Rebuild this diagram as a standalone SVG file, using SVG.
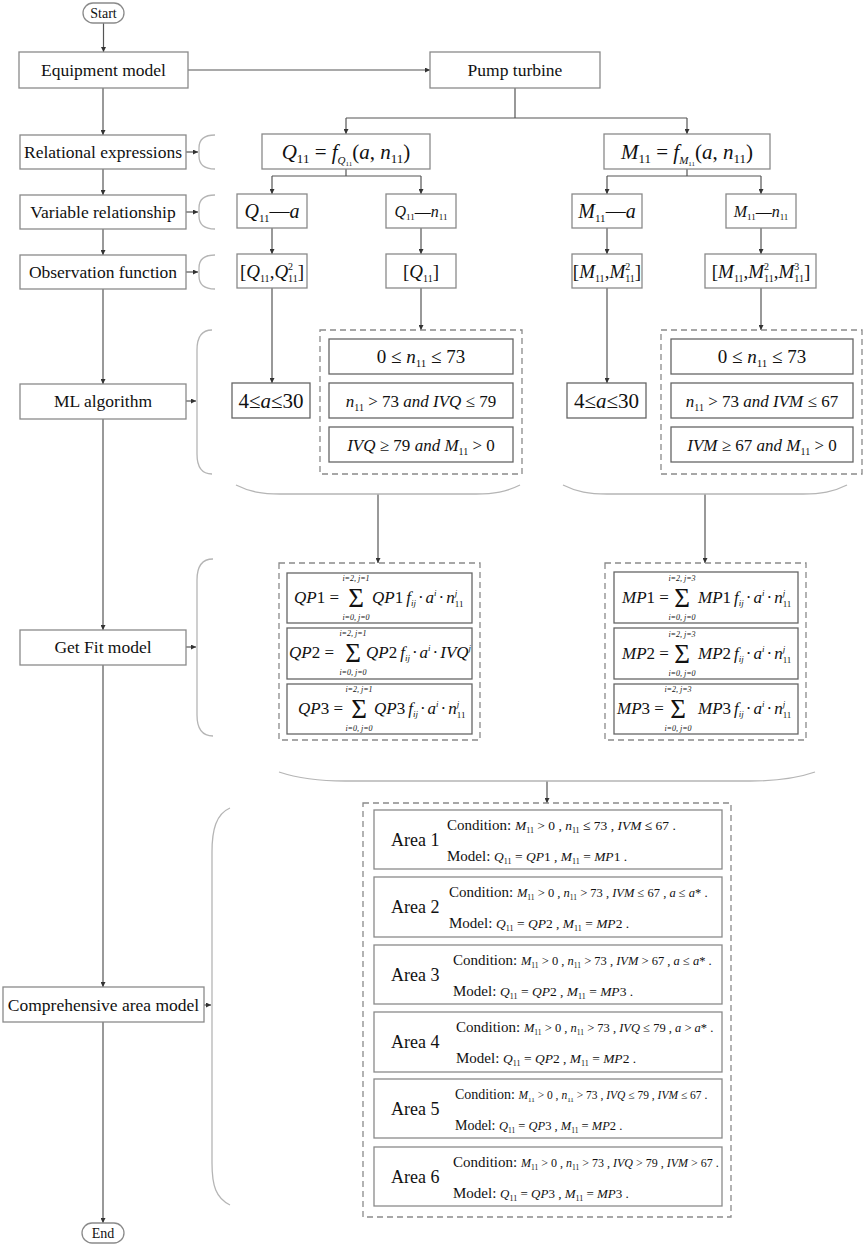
<svg xmlns="http://www.w3.org/2000/svg" width="865" height="1248" viewBox="0 0 865 1248" font-family="'Liberation Serif','Times New Roman',serif">
<defs>
<style>
text{font-family:"Liberation Serif","Times New Roman",serif;fill:#111}
.i{font-style:italic}
.b{fill:#fff;stroke:#8a8a8a;stroke-width:1.3}
.b2{fill:#fff;stroke:#666;stroke-width:1.3}
.d{fill:none;stroke:#8a8a8a;stroke-width:1.3;stroke-dasharray:6 4}
.k{fill:none;stroke:#b5b5b5;stroke-width:1.3}
.c{fill:none;stroke:#555;stroke-width:1.2}
.a{marker-end:url(#ah)}
.lab{font-size:17.5px;text-anchor:middle}
.sg{font-size:27px;text-anchor:middle}
.lim{font-size:8px;text-anchor:middle;font-style:italic}
.fx{font-size:17px}
</style>
<marker id="ah" viewBox="0 0 6 6" refX="6" refY="3" markerWidth="5" markerHeight="5" orient="auto" markerUnits="userSpaceOnUse"><path d="M0,0 L6,3 L0,6 z" fill="#333"/></marker>
</defs>
<rect x="0" y="0" width="865" height="1248" fill="#fff"/>

<g id="connectors">
<path class="c a" d="M103.5,23 V52"/>
<path class="c a" d="M188,70 H430"/>
<path class="c" d="M515,88 V118 M346,118 H687"/>
<path class="c a" d="M346,118 V134"/>
<path class="c a" d="M687,118 V134"/>
<path class="c" d="M346,169 V176 M272,176 H421 M687,169 V176 M607,176 H761"/>
<path class="c a" d="M272,176 V194"/>
<path class="c a" d="M421,176 V194"/>
<path class="c a" d="M607,176 V194"/>
<path class="c a" d="M761,176 V194"/>
<path class="c a" d="M272,228 V254"/>
<path class="c a" d="M421,228 V254"/>
<path class="c a" d="M607,228 V254"/>
<path class="c a" d="M761,228 V254"/>
<path class="c a" d="M272,288 V383"/>
<path class="c a" d="M421,288 V330"/>
<path class="c a" d="M607,288 V383"/>
<path class="c a" d="M761,288 V330"/>
<path class="c a" d="M378,494 V563"/>
<path class="c a" d="M705,494 V563"/>
<path class="c a" d="M547,781 V803"/>
<path class="c a" d="M103,88 V135"/>
<path class="c a" d="M103,169 V195"/>
<path class="c a" d="M103,229 V255"/>
<path class="c a" d="M103,289 V384"/>
<path class="c a" d="M103,419 V630"/>
<path class="c a" d="M103,665 V987"/>
<path class="c a" d="M103,1022 V1223"/>
<path class="c a" d="M186,152 H198"/>
<path class="c a" d="M186,212 H198"/>
<path class="c a" d="M186,272 H198"/>
<path class="c a" d="M186,401 H196"/>
<path class="c a" d="M186,647 H196"/>
<path class="c a" d="M204,1005 H211"/>
</g>

<g id="brackets">
<path class="k" d="M215,135 C203,135 199,140 199,148 L199,156 C199,164 203,169 215,169"/>
<path class="k" d="M215,195 C203,195 199,200 199,208 L199,216 C199,224 203,229 215,229"/>
<path class="k" d="M215,255 C203,255 199,260 199,268 L199,276 C199,284 203,289 215,289"/>
<path class="k" d="M212,330 C201,330 197,338 197,350 L197,454 C197,466 201,474 212,474"/>
<path class="k" d="M213,559 C202,559 197,567 197,580 L197,715 C197,728 202,736 213,736"/>
<path class="k" d="M230,808 C216,814 212,830 212,852 L212,1163 C212,1186 216,1198 230,1205"/>
<path class="k" d="M236,485 C250,492 262,494 280,494 L476,494 C494,494 506,492 520,485"/>
<path class="k" d="M563,485 C577,492 589,494 607,494 L803,494 C821,494 833,492 847,485"/>
<path class="k" d="M279,772 C300,779 320,781 345,781 L750,781 C775,781 795,779 815,772"/>
</g>

<g id="start"><rect class="b" x="83" y="3" width="41" height="20" rx="10"/><text x="103.5" y="17.5" font-size="14" text-anchor="middle">Start</text></g>
<g id="end"><rect class="b" x="82" y="1223" width="42" height="20" rx="10"/><text x="103" y="1237.5" font-size="14" text-anchor="middle">End</text></g>

<g id="equipment"><rect class="b" x="19" y="52" width="169" height="36"/><text class="lab" x="103.5" y="76">Equipment model</text></g>
<g id="pump"><rect class="b" x="430" y="52" width="170" height="36"/><text class="lab" x="515" y="76">Pump turbine</text></g>
<g id="relational"><rect class="b" x="20" y="135" width="166" height="34"/><text class="lab" x="103" y="158">Relational expressions</text></g>
<g id="variable"><rect class="b" x="20" y="195" width="166" height="34"/><text class="lab" x="103" y="218">Variable relationship</text></g>
<g id="observation"><rect class="b" x="20" y="255" width="166" height="34"/><text class="lab" x="103" y="278">Observation function</text></g>
<g id="ml"><rect class="b" x="20" y="384" width="166" height="35"/><text class="lab" x="103" y="407">ML algorithm</text></g>
<g id="getfit"><rect class="b" x="20" y="630" width="166" height="35"/><text class="lab" x="103" y="653">Get Fit model</text></g>
<g id="comprehensive"><rect class="b" x="3" y="987" width="201" height="35"/><text class="lab" x="103.5" y="1011">Comprehensive area model</text></g>

<g id="q11expr"><rect class="b" x="262" y="134" width="168" height="35"/>
<text x="346" y="159" text-anchor="middle" font-size="21"><tspan class="i">Q</tspan><tspan font-size="13" dy="4">11</tspan><tspan dy="-4"> = </tspan><tspan class="i">f</tspan><tspan class="i" font-size="11" dy="5">Q</tspan><tspan font-size="7" dy="2">11</tspan><tspan dy="-7">(</tspan><tspan class="i">a</tspan><tspan>, </tspan><tspan class="i">n</tspan><tspan font-size="13" dy="4">11</tspan><tspan dy="-4">)</tspan></text></g>
<g id="m11expr"><rect class="b" x="604" y="134" width="166" height="35"/>
<text x="687" y="159" text-anchor="middle" font-size="21"><tspan class="i">M</tspan><tspan font-size="13" dy="4">11</tspan><tspan dy="-4"> = </tspan><tspan class="i">f</tspan><tspan class="i" font-size="11" dy="5">M</tspan><tspan font-size="7" dy="2">11</tspan><tspan dy="-7">(</tspan><tspan class="i">a</tspan><tspan>, </tspan><tspan class="i">n</tspan><tspan font-size="13" dy="4">11</tspan><tspan dy="-4">)</tspan></text></g>

<g id="q11a"><rect class="b" x="237" y="194" width="70" height="34"/>
<text x="272" y="218" text-anchor="middle" font-size="20"><tspan class="i">Q</tspan><tspan font-size="11" dy="4">11</tspan><tspan dy="-4">—</tspan><tspan class="i">a</tspan></text></g>
<g id="q11n"><rect class="b" x="386" y="194" width="70" height="34"/>
<text x="421" y="217" text-anchor="middle" font-size="16"><tspan class="i">Q</tspan><tspan font-size="9" dy="3">11</tspan><tspan dy="-3">—</tspan><tspan class="i">n</tspan><tspan font-size="9" dy="3">11</tspan></text></g>
<g id="m11a"><rect class="b" x="572" y="194" width="70" height="34"/>
<text x="607" y="218" text-anchor="middle" font-size="20"><tspan class="i">M</tspan><tspan font-size="11" dy="4">11</tspan><tspan dy="-4">—</tspan><tspan class="i">a</tspan></text></g>
<g id="m11n"><rect class="b" x="726" y="194" width="70" height="34"/>
<text x="761" y="217" text-anchor="middle" font-size="16"><tspan class="i">M</tspan><tspan font-size="9" dy="3">11</tspan><tspan dy="-3">—</tspan><tspan class="i">n</tspan><tspan font-size="9" dy="3">11</tspan></text></g>

<g id="obsq1"><rect class="b" x="237" y="254" width="70" height="34"/>
<text x="272" y="278" text-anchor="middle" font-size="19">[<tspan class="i">Q</tspan><tspan font-size="10" dy="4">11</tspan><tspan dy="-4">,</tspan><tspan class="i">Q</tspan><tspan font-size="10" dy="-8">2</tspan><tspan font-size="10" dx="-5" dy="12">11</tspan><tspan dy="-4">]</tspan></text></g>
<g id="obsq2"><rect class="b" x="386" y="254" width="70" height="34"/>
<text x="421" y="278" text-anchor="middle" font-size="19">[<tspan class="i">Q</tspan><tspan font-size="10" dy="4">11</tspan><tspan dy="-4">]</tspan></text></g>
<g id="obsm1"><rect class="b" x="572" y="254" width="70" height="34"/>
<text x="607" y="278" text-anchor="middle" font-size="19">[<tspan class="i">M</tspan><tspan font-size="10" dy="4">11</tspan><tspan dy="-4">,</tspan><tspan class="i">M</tspan><tspan font-size="10" dy="-8">2</tspan><tspan font-size="10" dx="-5" dy="12">11</tspan><tspan dy="-4">]</tspan></text></g>
<g id="obsm2"><rect class="b" x="705" y="254" width="111" height="34"/>
<text x="761" y="278" text-anchor="middle" font-size="19">[<tspan class="i">M</tspan><tspan font-size="10" dy="4">11</tspan><tspan dy="-4">,</tspan><tspan class="i">M</tspan><tspan font-size="10" dy="-8">2</tspan><tspan font-size="10" dx="-5" dy="12">11</tspan><tspan dy="-4">,</tspan><tspan class="i">M</tspan><tspan font-size="10" dy="-8">3</tspan><tspan font-size="10" dx="-5" dy="12">11</tspan><tspan dy="-4">]</tspan></text></g>

<g id="qa"><rect class="b2" x="232" y="383" width="78" height="35"/>
<text x="271" y="408" text-anchor="middle" font-size="21">4≤<tspan class="i">a</tspan>≤30</text></g>
<g id="ma"><rect class="b2" x="567" y="383" width="79" height="35"/>
<text x="606.5" y="408" text-anchor="middle" font-size="21">4≤<tspan class="i">a</tspan>≤30</text></g>

<g id="mlq">
<rect class="d" x="320" y="330" width="202" height="144"/>
<rect class="b2" x="329" y="339" width="184" height="35"/>
<text x="421" y="363" text-anchor="middle" font-size="19">0 ≤ <tspan class="i">n</tspan><tspan font-size="11" dy="4">11</tspan><tspan dy="-4"> ≤ 73</tspan></text>
<rect class="b2" x="329" y="383" width="184" height="35"/>
<text x="421" y="407" text-anchor="middle" font-size="17"><tspan class="i">n</tspan><tspan font-size="10" dy="4">11</tspan><tspan dy="-4"> &gt; 73 </tspan><tspan class="i">and IVQ</tspan> ≤ 79</text>
<rect class="b2" x="329" y="427" width="184" height="35"/>
<text x="421" y="451" text-anchor="middle" font-size="17"><tspan class="i">IVQ</tspan> ≥ 79 <tspan class="i">and M</tspan><tspan font-size="10" dy="4">11</tspan><tspan dy="-4"> &gt; 0</tspan></text>
</g>
<g id="mlm">
<rect class="d" x="661" y="330" width="201" height="144"/>
<rect class="b2" x="671" y="339" width="182" height="35"/>
<text x="762" y="363" text-anchor="middle" font-size="19">0 ≤ <tspan class="i">n</tspan><tspan font-size="11" dy="4">11</tspan><tspan dy="-4"> ≤ 73</tspan></text>
<rect class="b2" x="671" y="383" width="182" height="35"/>
<text x="762" y="407" text-anchor="middle" font-size="17"><tspan class="i">n</tspan><tspan font-size="10" dy="4">11</tspan><tspan dy="-4"> &gt; 73 </tspan><tspan class="i">and IVM</tspan> ≤ 67</text>
<rect class="b2" x="671" y="427" width="182" height="35"/>
<text x="762" y="451" text-anchor="middle" font-size="17"><tspan class="i">IVM</tspan> ≥ 67 <tspan class="i">and M</tspan><tspan font-size="10" dy="4">11</tspan><tspan dy="-4"> &gt; 0</tspan></text>
</g>

<g id="fitq">
<rect class="d" x="279" y="563" width="201" height="177"/>
<rect class="b2" x="287" y="573" width="185" height="50"/>
<text class="fx" x="294" y="603"><tspan class="i">QP</tspan>1 =</text>
<text class="sg" x="356" y="607">Σ</text>
<text class="lim" x="356" y="581">i=2, j=1</text>
<text class="lim" x="356" y="620">i=0, j=0</text>
<text class="fx" x="372" y="603"><tspan class="i">QP</tspan>1<tspan class="i" dx="3">f</tspan><tspan class="i" font-size="9" dy="3">ij</tspan><tspan dy="-3" dx="2">·</tspan><tspan class="i" dx="2">a</tspan><tspan class="i" font-size="9" dy="-7">i</tspan><tspan dy="7" dx="2">·</tspan><tspan class="i" dx="2">n</tspan><tspan class="i" font-size="9" dy="-7">j</tspan><tspan font-size="9" dx="-2.5" dy="11">11</tspan></text>
<rect class="b2" x="287" y="628" width="185" height="51"/>
<text class="fx" x="289" y="658"><tspan class="i">QP</tspan>2 =</text>
<text class="sg" x="353" y="662">Σ</text>
<text class="lim" x="353" y="636">i=2, j=1</text>
<text class="lim" x="353" y="675">i=0, j=0</text>
<text class="fx" x="366" y="658"><tspan class="i">QP</tspan>2<tspan class="i" dx="3">f</tspan><tspan class="i" font-size="9" dy="3">ij</tspan><tspan dy="-3" dx="2">·</tspan><tspan class="i" dx="2">a</tspan><tspan class="i" font-size="9" dy="-7">i</tspan><tspan dy="7" dx="2">·</tspan><tspan class="i" dx="2">IVQ</tspan><tspan class="i" font-size="9" dy="-7">j</tspan></text>
<rect class="b2" x="287" y="684" width="185" height="50"/>
<text class="fx" x="298" y="714"><tspan class="i">QP</tspan>3 =</text>
<text class="sg" x="359" y="718">Σ</text>
<text class="lim" x="359" y="692">i=2, j=1</text>
<text class="lim" x="359" y="731">i=0, j=0</text>
<text class="fx" x="374" y="714"><tspan class="i">QP</tspan>3<tspan class="i" dx="3">f</tspan><tspan class="i" font-size="9" dy="3">ij</tspan><tspan dy="-3" dx="2">·</tspan><tspan class="i" dx="2">a</tspan><tspan class="i" font-size="9" dy="-7">i</tspan><tspan dy="7" dx="2">·</tspan><tspan class="i" dx="2">n</tspan><tspan class="i" font-size="9" dy="-7">j</tspan><tspan font-size="9" dx="-2.5" dy="11">11</tspan></text>
</g>

<g id="fitm">
<rect class="d" x="605" y="563" width="201" height="177"/>
<rect class="b2" x="614" y="572" width="184" height="51"/>
<text class="fx" x="622" y="603"><tspan class="i">MP</tspan>1 =</text>
<text class="sg" x="682" y="607">Σ</text>
<text class="lim" x="682" y="581">i=2, j=3</text>
<text class="lim" x="682" y="620">i=0, j=0</text>
<text class="fx" x="698" y="603"><tspan class="i">MP</tspan>1<tspan class="i" dx="3">f</tspan><tspan class="i" font-size="9" dy="3">ij</tspan><tspan dy="-3" dx="2">·</tspan><tspan class="i" dx="2">a</tspan><tspan class="i" font-size="9" dy="-7">i</tspan><tspan dy="7" dx="2">·</tspan><tspan class="i" dx="2">n</tspan><tspan class="i" font-size="9" dy="-7">j</tspan><tspan font-size="9" dx="-2.5" dy="11">11</tspan></text>
<rect class="b2" x="614" y="628" width="184" height="51"/>
<text class="fx" x="622" y="659"><tspan class="i">MP</tspan>2 =</text>
<text class="sg" x="682" y="663">Σ</text>
<text class="lim" x="682" y="637">i=2, j=3</text>
<text class="lim" x="682" y="676">i=0, j=0</text>
<text class="fx" x="698" y="659"><tspan class="i">MP</tspan>2<tspan class="i" dx="3">f</tspan><tspan class="i" font-size="9" dy="3">ij</tspan><tspan dy="-3" dx="2">·</tspan><tspan class="i" dx="2">a</tspan><tspan class="i" font-size="9" dy="-7">i</tspan><tspan dy="7" dx="2">·</tspan><tspan class="i" dx="2">n</tspan><tspan class="i" font-size="9" dy="-7">j</tspan><tspan font-size="9" dx="-2.5" dy="11">11</tspan></text>
<rect class="b2" x="614" y="684" width="184" height="50"/>
<text class="fx" x="617" y="714"><tspan class="i">MP</tspan>3 =</text>
<text class="sg" x="678" y="718">Σ</text>
<text class="lim" x="678" y="692">i=2, j=3</text>
<text class="lim" x="678" y="731">i=0, j=0</text>
<text class="fx" x="698" y="714"><tspan class="i">MP</tspan>3<tspan class="i" dx="3">f</tspan><tspan class="i" font-size="9" dy="3">ij</tspan><tspan dy="-3" dx="2">·</tspan><tspan class="i" dx="2">a</tspan><tspan class="i" font-size="9" dy="-7">i</tspan><tspan dy="7" dx="2">·</tspan><tspan class="i" dx="2">n</tspan><tspan class="i" font-size="9" dy="-7">j</tspan><tspan font-size="9" dx="-2.5" dy="11">11</tspan></text>
</g>

<g id="areas">
<rect class="d" x="363" y="803" width="368" height="414"/>
</g>
<g id="area1">
<rect class="b" x="374" y="810" width="348" height="59"/>
<text x="391" y="846" font-size="18">Area 1</text>
<text x="447" y="830" font-size="15">Condition: <tspan font-size="13.5"><tspan class="i">M</tspan><tspan font-size="8" dy="3">11</tspan><tspan dy="-3"> &gt; 0 , </tspan><tspan class="i">n</tspan><tspan font-size="8" dy="3">11</tspan><tspan dy="-3"> ≤ 73 , </tspan><tspan class="i">IVM</tspan> ≤ 67 .</tspan></text>
<text x="447" y="861" font-size="15">Model: <tspan font-size="13.5"><tspan class="i">Q</tspan><tspan font-size="8" dy="3">11</tspan><tspan dy="-3"> = </tspan><tspan class="i">QP</tspan>1 , <tspan class="i">M</tspan><tspan font-size="8" dy="3">11</tspan><tspan dy="-3"> = </tspan><tspan class="i">MP</tspan>1 .</tspan></text>
</g>
<g id="area2">
<rect class="b" x="374" y="877" width="348" height="60"/>
<text x="391" y="913" font-size="18">Area 2</text>
<text x="449" y="897" font-size="15">Condition: <tspan font-size="12.5"><tspan class="i">M</tspan><tspan font-size="7.5" dy="3">11</tspan><tspan dy="-3"> &gt; 0 , </tspan><tspan class="i">n</tspan><tspan font-size="7.5" dy="3">11</tspan><tspan dy="-3"> &gt; 73 , </tspan><tspan class="i">IVM</tspan> ≤ 67 , <tspan class="i">a</tspan> ≤ <tspan class="i">a</tspan>* .</tspan></text>
<text x="449" y="928" font-size="15">Model: <tspan font-size="13.5"><tspan class="i">Q</tspan><tspan font-size="8" dy="3">11</tspan><tspan dy="-3"> = </tspan><tspan class="i">QP</tspan>2 , <tspan class="i">M</tspan><tspan font-size="8" dy="3">11</tspan><tspan dy="-3"> = </tspan><tspan class="i">MP</tspan>2 .</tspan></text>
</g>
<g id="area3">
<rect class="b" x="374" y="945" width="348" height="59"/>
<text x="391" y="981" font-size="18">Area 3</text>
<text x="453" y="965" font-size="15">Condition: <tspan font-size="12.5"><tspan class="i">M</tspan><tspan font-size="7.5" dy="3">11</tspan><tspan dy="-3"> &gt; 0 , </tspan><tspan class="i">n</tspan><tspan font-size="7.5" dy="3">11</tspan><tspan dy="-3"> &gt; 73 , </tspan><tspan class="i">IVM</tspan> &gt; 67 , <tspan class="i">a</tspan> ≤ <tspan class="i">a</tspan>* .</tspan></text>
<text x="453" y="996" font-size="15">Model: <tspan font-size="13.5"><tspan class="i">Q</tspan><tspan font-size="8" dy="3">11</tspan><tspan dy="-3"> = </tspan><tspan class="i">QP</tspan>2 , <tspan class="i">M</tspan><tspan font-size="8" dy="3">11</tspan><tspan dy="-3"> = </tspan><tspan class="i">MP</tspan>3 .</tspan></text>
</g>
<g id="area4">
<rect class="b" x="374" y="1012" width="348" height="60"/>
<text x="391" y="1048" font-size="18">Area 4</text>
<text x="456" y="1032" font-size="15">Condition: <tspan font-size="12.5"><tspan class="i">M</tspan><tspan font-size="7.5" dy="3">11</tspan><tspan dy="-3"> &gt; 0 , </tspan><tspan class="i">n</tspan><tspan font-size="7.5" dy="3">11</tspan><tspan dy="-3"> &gt; 73 , </tspan><tspan class="i">IVQ</tspan> ≤ 79 , <tspan class="i">a</tspan> &gt; <tspan class="i">a</tspan>* .</tspan></text>
<text x="456" y="1063" font-size="15">Model: <tspan font-size="13.5"><tspan class="i">Q</tspan><tspan font-size="8" dy="3">11</tspan><tspan dy="-3"> = </tspan><tspan class="i">QP</tspan>2 , <tspan class="i">M</tspan><tspan font-size="8" dy="3">11</tspan><tspan dy="-3"> = </tspan><tspan class="i">MP</tspan>2 .</tspan></text>
</g>
<g id="area5">
<rect class="b" x="374" y="1079" width="348" height="59"/>
<text x="391" y="1115" font-size="18">Area 5</text>
<text x="455" y="1099" font-size="14">Condition: <tspan font-size="11.5"><tspan class="i">M</tspan><tspan font-size="7" dy="3">11</tspan><tspan dy="-3"> &gt; 0 , </tspan><tspan class="i">n</tspan><tspan font-size="7" dy="3">11</tspan><tspan dy="-3"> &gt; 73 , </tspan><tspan class="i">IVQ</tspan> ≤ 79 , <tspan class="i">IVM</tspan> ≤ 67 .</tspan></text>
<text x="455" y="1130" font-size="14">Model: <tspan font-size="12.5"><tspan class="i">Q</tspan><tspan font-size="7.5" dy="3">11</tspan><tspan dy="-3"> = </tspan><tspan class="i">QP</tspan>3 , <tspan class="i">M</tspan><tspan font-size="7.5" dy="3">11</tspan><tspan dy="-3"> = </tspan><tspan class="i">MP</tspan>2 .</tspan></text>
</g>
<g id="area6">
<rect class="b" x="374" y="1147" width="348" height="59"/>
<text x="391" y="1183" font-size="18">Area 6</text>
<text x="453" y="1167" font-size="15">Condition: <tspan font-size="12"><tspan class="i">M</tspan><tspan font-size="7.5" dy="3">11</tspan><tspan dy="-3"> &gt; 0 , </tspan><tspan class="i">n</tspan><tspan font-size="7.5" dy="3">11</tspan><tspan dy="-3"> &gt; 73 , </tspan><tspan class="i">IVQ</tspan> &gt; 79 , <tspan class="i">IVM</tspan> &gt; 67 .</tspan></text>
<text x="453" y="1198" font-size="15">Model: <tspan font-size="13"><tspan class="i">Q</tspan><tspan font-size="8" dy="3">11</tspan><tspan dy="-3"> = </tspan><tspan class="i">QP</tspan>3 , <tspan class="i">M</tspan><tspan font-size="8" dy="3">11</tspan><tspan dy="-3"> = </tspan><tspan class="i">MP</tspan>3 .</tspan></text>
</g>
</svg>
